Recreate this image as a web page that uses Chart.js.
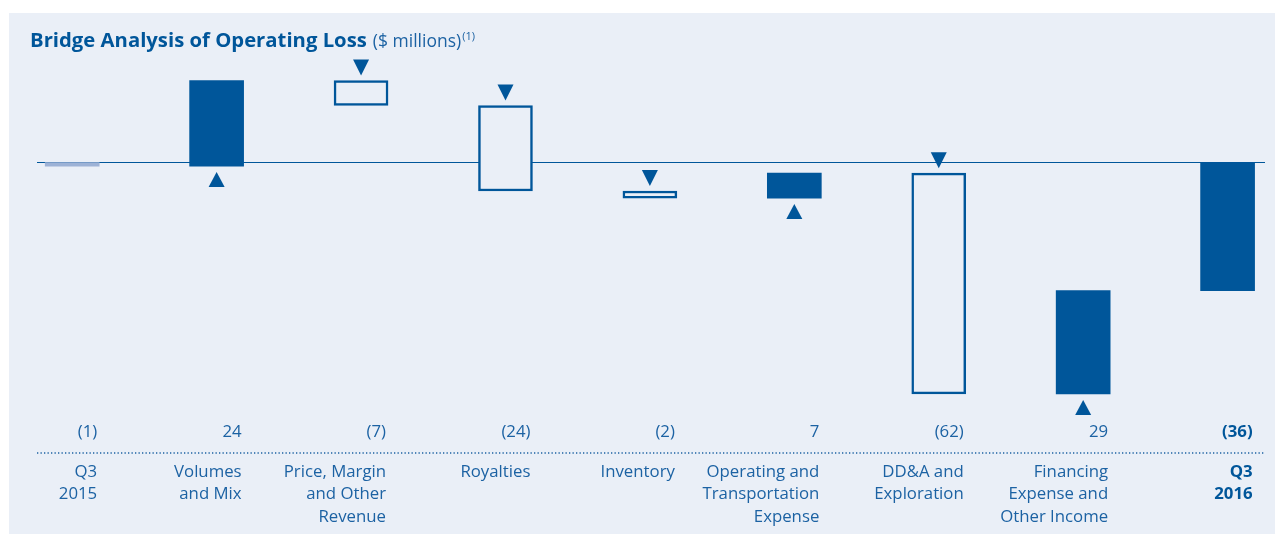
<!DOCTYPE html>
<html>
<head>
<meta charset="utf-8">
<script src="https://cdn.jsdelivr.net/npm/chart.js@4"></script>
<style>
  html, body { margin: 0; padding: 0; background: #ffffff; }
  #wrap { width: 1275px; height: 534px; position: relative; }
</style>
</head>
<body>
<div id="wrap"><canvas id="bridge" width="1275" height="534"></canvas></div>
<script>
// categories and values
const categories = [
    ["Q3", "2015"],
    ["Volumes", "and Mix"],
    ["Price, Margin", "and Other", "Revenue"],
    ["Royalties"],
    ["Inventory"],
    ["Operating and", "Transportation", "Expense"],
    ["DD&A and", "Exploration"],
    ["Financing", "Expense and", "Other Income"],
    ["Q3", "2016"]
];
const changes = [-1, 24, -7, -24, -2, 7, -62, 29, -36];
const valueLabels = ["(1)", "24", "(7)", "(24)", "(2)", "7", "(62)", "29", "(36)"];
const totalIdx = [0, 8]; // bars that start from zero

const DARK = "#00569a";
const LIGHT = "#9db2d6";
const PANEL = "#eaeff7";
const TEXT = "#1c62a3";
const FONT = "'Open Sans', 'Noto Sans', sans-serif";

// build floating ranges for the waterfall
let running = 0;
const ranges = changes.map((c, i) => {
    if (totalIdx.includes(i)) {
        running = c;
        return { x: i, y: [0, c] };
    }
    const r = { x: i, y: [running, running + c] };
    running += c;
    return r;
});

const fillColors = changes.map((c, i) => i === 0 ? LIGHT : (i === 8 || c > 0 ? DARK : PANEL));
const borderColors = changes.map((c, i) => i === 0 ? LIGHT : DARK);
const borderWidths = changes.map((c, i) => (i !== 0 && i !== 8 && c < 0) ? 2.5 : 0);

// background panel, zero line, arrows and labels
const bridgeDecor = {
    id: "bridgeDecor",
    beforeDraw(chart) {
        const ctx = chart.ctx;
        ctx.save();
        ctx.fillStyle = PANEL;
        ctx.fillRect(9, 13, chart.width - 9, chart.height - 13);
        ctx.restore();
    },
    beforeDatasetsDraw(chart) {
        const ctx = chart.ctx;
        const area = chart.chartArea;
        const y0 = chart.scales.y.getPixelForValue(0);
        ctx.save();
        ctx.strokeStyle = DARK;
        ctx.lineWidth = 1.2;
        ctx.beginPath();
        ctx.moveTo(area.left, y0);
        ctx.lineTo(area.right, y0);
        ctx.stroke();
        ctx.restore();
    },
    afterDatasetsDraw(chart) {
        const ctx = chart.ctx;
        const meta = chart.getDatasetMeta(0);
        const xs = chart.scales.x;
        ctx.save();
        ctx.fillStyle = DARK;
        meta.data.forEach((bar, i) => {
            if (totalIdx.includes(i)) return;
            const top = Math.min(bar.y, bar.base);
            const bottom = Math.max(bar.y, bar.base);
            ctx.beginPath();
            if (changes[i] < 0) {
                // down arrow above the box
                ctx.moveTo(bar.x - 8, top - 21);
                ctx.lineTo(bar.x + 8, top - 21);
                ctx.lineTo(bar.x, top - 5);
            } else {
                // up arrow below the bar
                ctx.moveTo(bar.x, bottom + 6);
                ctx.lineTo(bar.x + 8, bottom + 21);
                ctx.lineTo(bar.x - 8, bottom + 21);
            }
            ctx.closePath();
            ctx.fill();
        });

        // dotted separator
        const area = chart.chartArea;
        ctx.strokeStyle = TEXT;
        ctx.lineWidth = 1.3;
        ctx.setLineDash([1.3, 2.2]);
        ctx.beginPath();
        ctx.moveTo(area.left, 453);
        ctx.lineTo(area.right, 453);
        ctx.stroke();
        ctx.setLineDash([]);

        // value row and category labels, right aligned to the bar edge
        ctx.textAlign = "right";
        ctx.textBaseline = "middle";
        categories.forEach((lines, i) => {
            const xr = xs.getPixelForValue(i) + 25;
            const bold = i === 8;
            ctx.font = (bold ? "bold " : "") + "16.8px " + FONT;
            ctx.fillStyle = bold ? DARK : TEXT;
            ctx.fillText(valueLabels[i], xr, 432);
            lines.forEach((ln, k) => {
                ctx.fillText(ln, xr, 472 + k * 22.5);
            });
        });

        // title
        ctx.textAlign = "left";
        ctx.textBaseline = "alphabetic";
        ctx.fillStyle = DARK;
        ctx.font = "bold 20.3px " + FONT;
        const t1 = "Bridge Analysis of Operating Loss";
        ctx.fillText(t1, 30, 47);
        let x = 30 + ctx.measureText(t1).width + 6;
        ctx.font = "17.5px " + FONT;
        ctx.fillStyle = TEXT;
        const t2 = "($ millions)";
        ctx.fillText(t2, x, 47);
        x += ctx.measureText(t2).width + 1;
        ctx.font = "11px " + FONT;
        ctx.fillText("(1)", x, 40);
        ctx.restore();
    }
};

new Chart(document.getElementById("bridge"), {
    type: "bar",
    data: {
        datasets: [{
            data: ranges,
            backgroundColor: fillColors,
            borderColor: borderColors,
            borderWidth: borderWidths,
            borderSkipped: false,
            barThickness: 54
        }]
    },
    options: {
        responsive: false,
        animation: false,
        layout: { padding: { left: 37, right: 10, top: 60, bottom: 114 } },
        scales: {
            x: { type: "linear", min: -0.2437, max: 8.259, offset: false, display: false },
            y: { min: -72.33, max: 28.79, display: false }
        },
        plugins: {
            legend: { display: false },
            tooltip: { enabled: false }
        }
    },
    plugins: [bridgeDecor]
});
</script>
</body>
</html>
